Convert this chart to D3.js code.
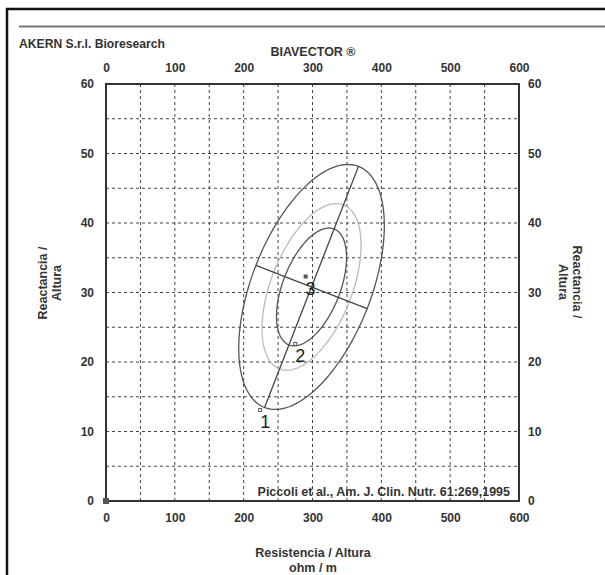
<!DOCTYPE html>
<html><head><meta charset="utf-8">
<script src="https://cdn.jsdelivr.net/npm/d3@7"></script>
<style>
html,body{margin:0;padding:0;background:#fff;}
svg{display:block;}
text{font-family:"Liberation Sans",Arial,sans-serif;}
</style></head>
<body>
<script>
// ---- data ----
const xTicks = [0, 100, 200, 300, 400, 500, 600];
const yTicks = [0, 10, 20, 30, 40, 50, 60];
const xGrid = [50, 100, 150, 200, 250, 300, 350, 400, 450, 500, 550];
const yGrid = [5, 10, 15, 20, 25, 30, 35, 40, 45, 50, 55];
const refMean = [298.6, 30.8];     // R/H, Xc/H
const refSD = [43.2, 7.2];
const refR = 0.5;
const ellipseLevels = [0.50, 0.75, 0.95];
const ellipseColors = ["#555", "#bbb", "#555"];
const pointLabels = ["1", "2", "3"];
const pointR = [224, 275, 290];
const pointXc = [13.1, 22.6, 32.3];

const W = 605, H = 575;
const svg = d3.select("body").append("svg").attr("width", W).attr("height", H);
const x = d3.scaleLinear().domain([0, 600]).range([106, 519]);
const y = d3.scaleLinear().domain([0, 60]).range([501, 84]);
const tc = "#333";

// outer frame
svg.append("rect").attr("x", 7).attr("y", 9).attr("width", 620).attr("height", 600)
  .attr("fill", "none").attr("stroke", "#111").attr("stroke-width", 2.5);
svg.append("line").attr("x1", 19).attr("x2", 605).attr("y1", 26.5).attr("y2", 26.5)
  .attr("stroke", "#777").attr("stroke-width", 2);

svg.append("text").attr("x", 19).attr("y", 48).attr("font-size", 12.5).attr("font-weight", "bold")
  .attr("fill", tc).attr("textLength", 146).attr("lengthAdjust", "spacingAndGlyphs").text("AKERN S.r.l. Bioresearch");
svg.append("text").attr("x", 313).attr("y", 56).attr("text-anchor", "middle").attr("font-size", 12.5)
  .attr("font-weight", "bold").attr("fill", tc).text("BIAVECTOR ®");

// grid
const g = svg.append("g");
g.selectAll(".vg").data(xGrid).join("line")
  .attr("x1", d => x(d)).attr("x2", d => x(d)).attr("y1", y(60)).attr("y2", y(0))
  .attr("stroke", "#444").attr("stroke-width", 1).attr("stroke-dasharray", "3,3");
g.selectAll(".hg").data(yGrid).join("line")
  .attr("y1", d => y(d)).attr("y2", d => y(d)).attr("x1", x(0)).attr("x2", x(600))
  .attr("stroke", "#444").attr("stroke-width", 1).attr("stroke-dasharray", "3,3");

// axes
const axB = d3.axisBottom(x).tickValues(xTicks).tickSize(0).tickPadding(12);
const axT = d3.axisTop(x).tickValues(xTicks).tickSize(0).tickPadding(12);
const axL = d3.axisLeft(y).tickValues(yTicks).tickSize(0).tickPadding(12);
const axR = d3.axisRight(y).tickValues(yTicks).tickSize(0).tickPadding(9);
function styleAx(sel){
  sel.select(".domain").remove();
  sel.selectAll("text").attr("font-size", 12).attr("font-weight", "bold").attr("fill", tc)
    .attr("font-family", '"Liberation Sans",Arial,sans-serif');
}
svg.append("g").attr("transform", `translate(0,${y(0)})`).call(axB).call(styleAx);
svg.append("g").attr("transform", `translate(0,${y(60)})`).call(axT).call(styleAx);
svg.append("g").attr("transform", `translate(${x(0)},0)`).call(axL).call(styleAx);
svg.append("g").attr("transform", `translate(${x(600)},0)`).call(axR).call(styleAx);

// plot frame
svg.append("rect").attr("x", x(0)).attr("y", y(60)).attr("width", x(600) - x(0)).attr("height", y(0) - y(60))
  .attr("fill", "none").attr("stroke", "#333").attr("stroke-width", 2);
svg.append("rect").attr("x", x(0) - 3).attr("y", y(0) - 3).attr("width", 6).attr("height", 6).attr("fill", "#555");

// axis titles
svg.append("text").attr("x", 313).attr("y", 557).attr("text-anchor", "middle").attr("font-size", 12.5)
  .attr("font-weight", "bold").attr("fill", tc).text("Resistencia / Altura");
svg.append("text").attr("x", 313).attr("y", 572).attr("text-anchor", "middle").attr("font-size", 12.5)
  .attr("font-weight", "bold").attr("fill", tc).text("ohm / m");
const lt = svg.append("text").attr("transform", "translate(47,283) rotate(-90)").attr("text-anchor", "middle")
  .attr("font-size", 12.5).attr("font-weight", "bold").attr("fill", tc);
lt.append("tspan").attr("x", 0).attr("dy", 0).text("Reactancia /");
lt.append("tspan").attr("x", 0).attr("dy", 14).text("Altura");
const rt = svg.append("text").attr("transform", "translate(573,282) rotate(90)").attr("text-anchor", "middle")
  .attr("font-size", 12.5).attr("font-weight", "bold").attr("fill", tc);
rt.append("tspan").attr("x", 0).attr("dy", 0).text("Reactancia /");
rt.append("tspan").attr("x", 0).attr("dy", 14).text("Altura");

svg.append("text").attr("x", 510).attr("y", 496).attr("text-anchor", "end").attr("font-size", 12.5)
  .attr("font-weight", "bold").attr("fill", tc).text("Piccoli et al., Am. J. Clin. Nutr. 61:269,1995");

// ellipses
const cxy = refR * refSD[0] * refSD[1];
const L11 = refSD[0], L21 = refR * refSD[1], L22 = refSD[1] * Math.sqrt(1 - refR * refR);
const ts = d3.range(0, 361, 2).map(a => a * Math.PI / 180);
const line = d3.line().x(d => x(d[0])).y(d => y(d[1])).curve(d3.curveLinearClosed);
ellipseLevels.forEach((p, i) => {
  const k = Math.sqrt(-2 * Math.log(1 - p));
  const pts = ts.map(t => [refMean[0] + k * L11 * Math.cos(t), refMean[1] + k * (L21 * Math.cos(t) + L22 * Math.sin(t))]);
  svg.append("path").attr("d", line(pts)).attr("fill", "none").attr("stroke", ellipseColors[i]).attr("stroke-width", 1.3);
});

// principal axes of outer ellipse (in pixel space)
{
  const sx = Math.abs(x(1) - x(0)), sy = Math.abs(y(1) - y(0));
  const a = refSD[0] * refSD[0] * sx * sx, d = refSD[1] * refSD[1] * sy * sy, b = -cxy * sx * sy; // pixel y down
  const tr = (a + d) / 2, disc = Math.sqrt(((a - d) / 2) ** 2 + b * b);
  const l1 = tr + disc, l2 = tr - disc;
  const k = Math.sqrt(-2 * Math.log(1 - 0.95));
  const cx = x(refMean[0]), cy = y(refMean[1]);
  [l1, l2].forEach(l => {
    let vx = b, vy = l - a; const n = Math.hypot(vx, vy); vx /= n; vy /= n;
    const r = Math.sqrt(l) * k;
    svg.append("line").attr("x1", cx - vx * r).attr("y1", cy - vy * r).attr("x2", cx + vx * r).attr("y2", cy + vy * r)
      .attr("stroke", "#444").attr("stroke-width", 1.3);
  });
}

// points
pointLabels.forEach((lab, i) => {
  const px = x(pointR[i]), py = y(pointXc[i]);
  svg.append("rect").attr("x", px - 1.5).attr("y", py - 1.5).attr("width", 3).attr("height", 3)
    .attr("fill", i === 2 ? "#555" : "#fff").attr("stroke", "#555").attr("stroke-width", 1);
  svg.append("text").attr("x", px + 5).attr("y", py + 18).attr("text-anchor", "middle")
    .attr("font-family", "'Liberation Sans',Arial,sans-serif").attr("font-size", 18).attr("fill", "#222").text(lab);
});
</script>
</body></html>
